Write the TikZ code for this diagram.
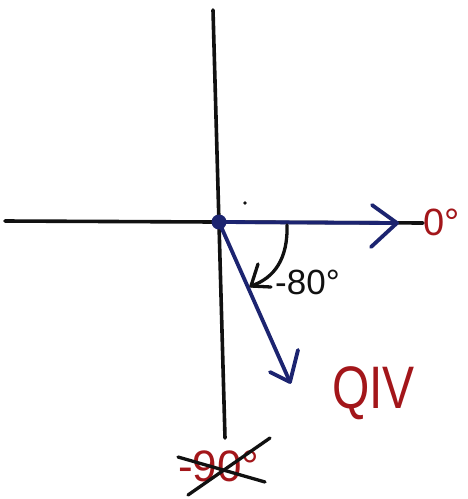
\documentclass[tikz,border=0pt]{standalone}
\usepackage{fontspec}
\setmainfont{Liberation Sans}
\definecolor{penblue}{HTML}{1C2470}
\definecolor{penred}{HTML}{A3161A}
\definecolor{penblack}{HTML}{111111}
\tikzset{
  axis/.style={draw=penblack,line width=3.6pt,line cap=round},
  vec/.style={draw=penblue,line width=3.8pt,line cap=round,line join=round},
  pen/.style={draw=penblack,line width=3.3pt,line cap=round,line join=round},
  redlbl/.style={text=penred,inner sep=0pt,anchor=west},
  blklbl/.style={text=penblack,inner sep=0pt,anchor=west}
}
\begin{document}
\begin{tikzpicture}[x=1pt,y=-1pt]
\useasboundingbox (0,0) rectangle (467,499);
\fill[white] (0,0) rectangle (467,499);
% axes
\coordinate (xl) at (5,221);
\coordinate (xr) at (423,223);
\coordinate (yt) at (213,10);
\coordinate (yb) at (225,438);
\draw[axis] (xl) -- (xr);
\draw[axis] (yt) -- (yb);
% origin
\coordinate (O) at (219,222);
% 0 deg vector
\coordinate (t0) at (397,223);
\coordinate (b0a) at (372,205);
\coordinate (b0b) at (371,247);
\draw[vec] (O) -- (t0);
\draw[vec] (b0a) -- (t0) -- (b0b);
% -80 deg vector
\coordinate (t80) at (290,382);
\coordinate (b80a) at (298,350);
\coordinate (b80b) at (270,372);
\draw[vec] (O) -- (t80);
\draw[vec] (b80a) -- (t80) -- (b80b);
\fill[penblue] (O) circle (7.5);
% angle arc
\coordinate (as) at (287,225);
\coordinate (ae) at (251,286);
\coordinate (aba) at (258,264);
\coordinate (abb) at (271,287);
\draw[pen] (as) .. controls (288,258) and (275,278) .. (ae);
\draw[pen] (aba) -- (ae) -- (abb);
% small dot
\fill[penblack] (245,203) circle (1.8);
% labels
\node[redlbl,font=\fontsize{38}{38}\selectfont] (l0) at (423,222) {0°};
\node[blklbl,font=\fontsize{35}{35}\selectfont] (l80) at (275,282) {-80°};
\node[redlbl,font=\fontsize{60}{60}\selectfont,xscale=0.8] (q4) at (332,393) {QIV};
\node[redlbl,font=\fontsize{44}{44}\selectfont] (l90) at (178,466) {-90°};
% cross out
\coordinate (c1a) at (178,457);
\coordinate (c1b) at (265,482);
\coordinate (c2a) at (188,495);
\coordinate (c2b) at (270,438);
\draw[pen] (c1a) -- (c1b);
\draw[pen] (c2a) -- (c2b);
\end{tikzpicture}
\end{document}
